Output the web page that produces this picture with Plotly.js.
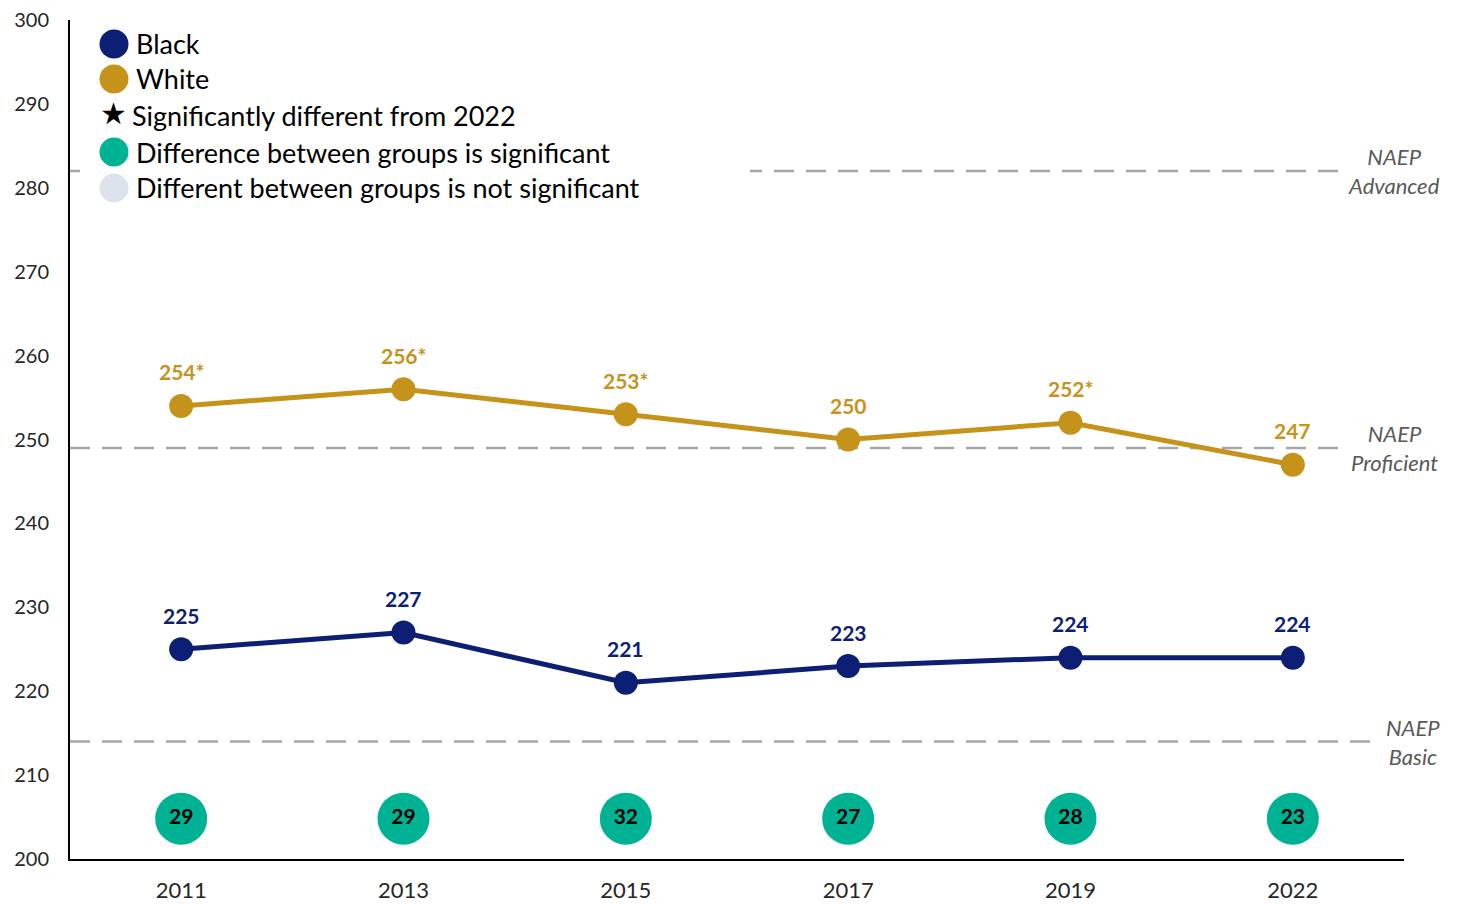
<!DOCTYPE html>
<html>
<head>
<meta charset="utf-8">
<script src="https://cdn.plot.ly/plotly-3.0.1.min.js"></script>
<style>html,body{margin:0;padding:0;background:#fff;}#chart{width:1457px;height:905px;}</style>
</head>
<body>
<div id="chart"></div>
<script>
// ---- data ----
const years = ['2011', '2013', '2015', '2017', '2019', '2022'];
const blackScores = [225, 227, 221, 223, 224, 224];
const whiteScores = [254, 256, 253, 250, 252, 247];
const blackSigDiff2022 = [false, false, false, false, false, false];
const whiteSigDiff2022 = [true, true, true, false, true, false];
const gapValues = [29, 29, 32, 27, 28, 23];
const gapSignificant = [true, true, true, true, true, true];
const levelNames = ['NAEP<br>Advanced', 'NAEP<br>Proficient', 'NAEP<br>Basic'];
const levelScores = [282, 249, 214];
const yTicks = [200, 210, 220, 230, 240, 250, 260, 270, 280, 290, 300];
const legendLabels = ['Black', 'White', 'Significantly different from 2022',
  'Difference between groups is significant', 'Different between groups is not significant'];

// ---- style ----
const NAVY = '#0C1F74';
const GOLD = '#C6931A';
const TEAL = '#00B294';
const LIGHT = '#DDE3EB';
const FONT = 'Lato, "Open Sans", sans-serif';
const W = 1457, H = 905;
const M = {l: 70, r: 53, t: 20, b: 46};
const PW = W - M.l - M.r, PH = H - M.t - M.b;
const px = x => (x - M.l) / PW;          // pixel -> paper x
const py = y => (H - M.b - y) / PH;      // pixel -> paper y
const GAP_ROW = 204.8;

const traces = [
  {
    x: years, y: whiteScores, type: 'scatter', mode: 'lines+markers',
    line: {color: GOLD, width: 5}, marker: {color: GOLD, size: 24},
    hoverinfo: 'x+y', showlegend: false, cliponaxis: false
  },
  {
    x: years, y: blackScores, type: 'scatter', mode: 'lines+markers',
    line: {color: NAVY, width: 5}, marker: {color: NAVY, size: 24},
    hoverinfo: 'x+y', showlegend: false, cliponaxis: false
  },
  {
    x: years, y: years.map(() => GAP_ROW), type: 'scatter', mode: 'markers+text',
    text: gapValues.map(v => '<b>' + v + '</b>'), textposition: 'middle center',
    textfont: {family: FONT, size: 21, color: '#000'},
    marker: {color: gapSignificant.map(s => s ? TEAL : LIGHT), size: 52},
    hoverinfo: 'text', showlegend: false, cliponaxis: false
  }
];

const annotations = [];
years.forEach((yr, i) => {
  annotations.push({
    x: i, y: whiteScores[i], xref: 'x', yref: 'y', showarrow: false, yshift: 34,
    text: '<b>' + whiteScores[i] + (whiteSigDiff2022[i] ? '*' : '') + '</b>',
    font: {family: FONT, size: 21, color: GOLD}
  });
  annotations.push({
    x: i, y: blackScores[i], xref: 'x', yref: 'y', showarrow: false, yshift: 34,
    text: '<b>' + blackScores[i] + (blackSigDiff2022[i] ? '*' : '') + '</b>',
    font: {family: FONT, size: 21, color: NAVY}
  });
});
const levelLabelX = [1394, 1394, 1413];
levelNames.forEach((nm, i) => {
  annotations.push({
    x: px(levelLabelX[i]), xref: 'paper', y: levelScores[i], yref: 'y',
    showarrow: false, text: '<i>' + nm + '</i>', align: 'center',
    xanchor: 'center', yanchor: 'middle',
    font: {family: FONT, size: 22, color: '#595959'}
  });
});

// legend (manual)
const legendRowY = [44, 79, 115, 152, 188];
const legendTextX = [134, 134, 130, 134, 134];
const legendSymbolColor = [NAVY, GOLD, null, TEAL, LIGHT];
legendLabels.forEach((lab, i) => {
  annotations.push({
    x: px(legendTextX[i]), xref: 'paper', y: py(legendRowY[i]), yref: 'paper',
    xanchor: 'left', yanchor: 'middle', showarrow: false, text: lab,
    font: {family: FONT, size: 27, color: '#000'}
  });
});
annotations.push({
  x: px(113), xref: 'paper', y: py(113), yref: 'paper', xanchor: 'center', yanchor: 'middle',
  showarrow: false, text: '★', font: {family: 'DejaVu Sans', size: 30, color: '#000'}
});

const shapes = [];
const levelEndX = [5.22, 5.22, 5.39];
levelScores.forEach((s, i) => {
  shapes.push({
    type: 'line', xref: 'x', yref: 'y', x0: -0.5, x1: levelEndX[i], y0: s, y1: s,
    line: {color: '#A6A6A6', width: 2.5, dash: '20px,12px'}, layer: 'below'
  });
});
// white legend background
shapes.push({
  type: 'rect', xref: 'paper', yref: 'paper', x0: px(80), x1: px(750), y0: py(205), y1: py(24),
  fillcolor: '#fff', line: {width: 0}, layer: 'above'
});
legendSymbolColor.forEach((c, i) => {
  if (!c) return;
  shapes.push({
    type: 'circle', xref: 'paper', yref: 'paper', xsizemode: 'pixel', ysizemode: 'pixel',
    xanchor: px(114), yanchor: py(legendRowY[i]), x0: -14.5, x1: 14.5, y0: -14.5, y1: 14.5,
    fillcolor: c, line: {width: 0}, layer: 'above'
  });
});

const layout = {
  width: W, height: H, margin: M,
  paper_bgcolor: '#fff', plot_bgcolor: '#fff',
  font: {family: FONT, size: 20, color: '#262626'},
  showlegend: false,
  xaxis: {
    type: 'category', range: [-0.5, 5.5], showgrid: false, zeroline: false,
    showline: true, linecolor: '#000', linewidth: 2,
    ticks: '', ticklabelstandoff: 11, tickfont: {family: FONT, size: 22, color: '#262626'}
  },
  yaxis: {
    range: [200, 300], tickvals: yTicks, showgrid: false, zeroline: false,
    showline: true, linecolor: '#000', linewidth: 2,
    ticks: '', ticklabelstandoff: 15, tickfont: {family: FONT, size: 20, color: '#262626'}
  },
  annotations: annotations,
  shapes: shapes
};

Plotly.newPlot('chart', traces, layout, {displayModeBar: false, staticPlot: true});
</script>
</body>
</html>
